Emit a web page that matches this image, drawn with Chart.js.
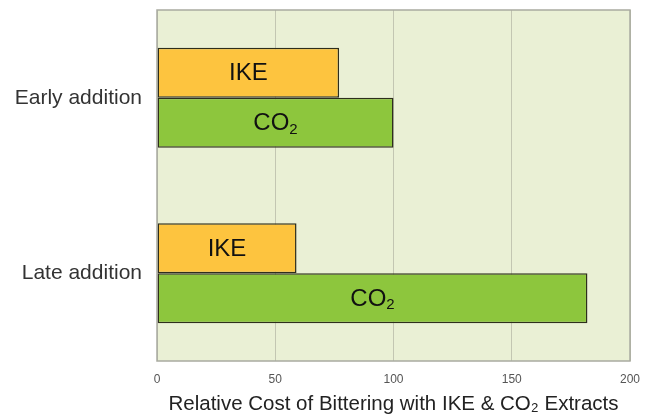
<!DOCTYPE html>
<html lang="en">
<head>
    <meta charset="UTF-8">
    <title>Relative Cost of Bittering</title>
    <script src="https://cdn.jsdelivr.net/npm/chart.js"></script>
    <style>
        html, body { margin: 0; padding: 0; background: #fff; }
        #wrap { width: 652px; height: 414px; }
    </style>
</head>
<body>
    <div id="wrap"><canvas id="costChart" width="652" height="414"></canvas></div>

    <script>
        // data
        const categories = ['Early addition', 'Late addition'];
        const ikeValues = [77, 59];
        const co2Values = [100, 182];
        const xTicks = [0, 50, 100, 150, 200];
        // label drawn inside each bar: [main text, subscript]
        const seriesLabels = [['IKE', ''], ['CO', '2']];

        const plotBg = {
            id: 'plotBg',
            beforeDraw(chart) {
                const { ctx, chartArea: a } = chart;
                ctx.save();
                ctx.fillStyle = '#eaf0d5';
                ctx.fillRect(a.left, a.top, a.right - a.left, a.bottom - a.top);
                ctx.restore();
            },
            afterDraw(chart) {
                const { ctx, chartArea: a } = chart;
                ctx.save();
                ctx.strokeStyle = '#a9aba0';
                ctx.lineWidth = 1.5;
                ctx.strokeRect(a.left, a.top, a.right - a.left, a.bottom - a.top);
                ctx.restore();
            }
        };

        const barText = {
            id: 'barText',
            afterDatasetsDraw(chart) {
                const ctx = chart.ctx;
                ctx.save();
                ctx.fillStyle = '#111';
                ctx.textBaseline = 'middle';
                ctx.textAlign = 'left';
                chart.data.datasets.forEach((ds, i) => {
                    const [main, sub] = seriesLabels[i];
                    chart.getDatasetMeta(i).data.forEach(bar => {
                        const cx = (bar.x + bar.base) / 2;
                        const cy = bar.y;
                        ctx.font = '24px "Liberation Sans", Arial, sans-serif';
                        const w1 = ctx.measureText(main).width;
                        ctx.font = '15px "Liberation Sans", Arial, sans-serif';
                        const w2 = sub ? ctx.measureText(sub).width : 0;
                        const x = cx - (w1 + w2) / 2;
                        ctx.font = '24px "Liberation Sans", Arial, sans-serif';
                        ctx.fillText(main, x, cy + 1);
                        if (sub) {
                            ctx.font = '15px "Liberation Sans", Arial, sans-serif';
                            ctx.fillText(sub, x + w1, cy + 7);
                        }
                    });
                });
                ctx.restore();
            }
        };

        new Chart(document.getElementById('costChart'), {
            type: 'bar',
            data: {
                labels: categories,
                datasets: [{
                    label: 'IKE',
                    data: ikeValues,
                    backgroundColor: '#fdc43f',
                    borderColor: '#2e2e1c',
                    borderWidth: 1.5,
                    borderSkipped: false
                }, {
                    label: 'CO2',
                    data: co2Values,
                    backgroundColor: '#8dc63d',
                    borderColor: '#2e2e1c',
                    borderWidth: 1.5,
                    borderSkipped: false
                }]
            },
            options: {
                indexAxis: 'y',
                responsive: false,
                animation: false,
                categoryPercentage: 0.57,
                barPercentage: 1.0,
                layout: { padding: { top: 10, right: 22, bottom: 0, left: 0 } },
                plugins: {
                    legend: { display: false },
                    tooltip: { enabled: false }
                },
                scales: {
                    x: {
                        min: 0,
                        max: 200,
                        afterBuildTicks(scale) {
                            scale.ticks = xTicks.map(v => ({ value: v }));
                        },
                        afterFit(scale) { scale.height = 53; },
                        grid: { color: '#c3c6b2', lineWidth: 1, drawTicks: false },
                        border: { display: false },
                        ticks: {
                            color: '#555',
                            padding: 11,
                            maxRotation: 0,
                            font: { family: '"Liberation Sans", Arial, sans-serif', size: 12 }
                        },
                        title: {
                            display: true,
                            text: 'Relative Cost of Bittering with IKE & CO\u2082 Extracts',
                            color: '#222',
                            padding: { top: 4, bottom: 0 },
                            font: { family: '"Liberation Sans", Arial, sans-serif', size: 20.5, lineHeight: 0.95 }
                        }
                    },
                    y: {
                        afterFit(scale) {
                            scale.width = 157;
                            scale.paddingTop = 0;
                            scale.paddingBottom = 0;
                        },
                        grid: { display: false, drawTicks: false },
                        border: { display: false },
                        ticks: {
                            color: '#333',
                            padding: 15,
                            font: { family: '"Liberation Sans", Arial, sans-serif', size: 21 }
                        }
                    }
                }
            },
            plugins: [plotBg, barText]
        });
    </script>
</body>
</html>
